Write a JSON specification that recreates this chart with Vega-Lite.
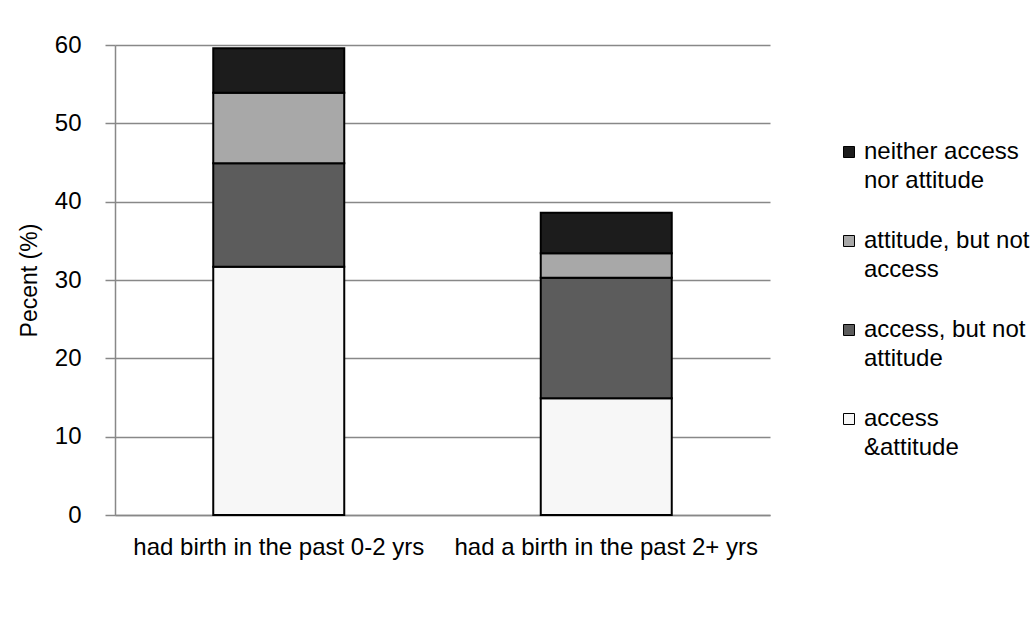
{
  "$schema": "https://vega.github.io/schema/vega-lite/v6.json",
  "width": 655,
  "height": 470,
  "autosize": {"type": "none"},
  "padding": {"left": 115, "top": 45, "right": 261, "bottom": 102},
  "background": "white",
  "config": {
    "font": "Liberation Sans",
    "view": {"stroke": null},
    "axis": {"labelFont": "Liberation Sans", "titleFont": "Liberation Sans", "labelColor": "black", "titleColor": "black"}
  },
  "data": {
    "values": [
      {"group": "had birth in the past 0-2 yrs", "category": "access &attitude", "order": 1, "value": 31.7},
      {"group": "had birth in the past 0-2 yrs", "category": "access, but not attitude", "order": 2, "value": 13.2},
      {"group": "had birth in the past 0-2 yrs", "category": "attitude, but not access", "order": 3, "value": 9.0},
      {"group": "had birth in the past 0-2 yrs", "category": "neither access nor attitude", "order": 4, "value": 5.7},
      {"group": "had a birth in the past 2+ yrs", "category": "access &attitude", "order": 1, "value": 14.9},
      {"group": "had a birth in the past 2+ yrs", "category": "access, but not attitude", "order": 2, "value": 15.4},
      {"group": "had a birth in the past 2+ yrs", "category": "attitude, but not access", "order": 3, "value": 3.1},
      {"group": "had a birth in the past 2+ yrs", "category": "neither access nor attitude", "order": 4, "value": 5.2}
    ]
  },
  "mark": {"type": "bar", "stroke": "black", "strokeWidth": 2},
  "encoding": {
    "x": {
      "field": "group",
      "type": "nominal",
      "sort": ["had birth in the past 0-2 yrs", "had a birth in the past 2+ yrs"],
      "scale": {"paddingInner": 0.6, "paddingOuter": 0.3},
      "axis": {
        "title": null,
        "labelAngle": 0,
        "labelFontSize": 24,
        "labelPadding": 20,
        "ticks": false,
        "domainColor": "#888888",
        "domainWidth": 1.5,
        "labelLimit": 400
      }
    },
    "y": {
      "field": "value",
      "type": "quantitative",
      "stack": "zero",
      "scale": {"domain": [0, 60]},
      "axis": {
        "title": "Pecent (%)",
        "titleFontSize": 23,
        "titleFontWeight": "normal",
        "titlePadding": 13,
        "values": [0, 10, 20, 30, 40, 50, 60],
        "labelFontSize": 24,
        "labelPadding": 24,
        "tickSize": 10,
        "tickColor": "#888888",
        "tickWidth": 1.5,
        "domainColor": "#888888",
        "domainWidth": 1.5,
        "gridColor": "#888888",
        "gridWidth": 1.5
      }
    },
    "color": {
      "field": "category",
      "type": "nominal",
      "sort": ["neither access nor attitude", "attitude, but not access", "access, but not attitude", "access &attitude"],
      "scale": {
        "domain": ["neither access nor attitude", "attitude, but not access", "access, but not attitude", "access &attitude"],
        "range": ["#1c1c1c", "#a8a8a8", "#5c5c5c", "#f7f7f7"]
      },
      "legend": {
        "title": null,
        "orient": "none",
        "legendX": 722,
        "legendY": 95,
        "symbolType": "square",
        "symbolSize": 121,
        "symbolStrokeColor": "black",
        "symbolStrokeWidth": 1,
        "symbolOpacity": 1,
        "labelFontSize": 24,
        "labelColor": "black",
        "labelLimit": 300,
        "labelOffset": 3,
        "rowPadding": 36,
        "encode": {"labels": {"update": {"lineHeight": {"value": 29}}}},
        "labelExpr": "datum.label == 'neither access nor attitude' ? ['neither access', 'nor attitude'] : datum.label == 'attitude, but not access' ? ['attitude, but not', 'access'] : datum.label == 'access, but not attitude' ? ['access, but not', 'attitude'] : ['access', '&attitude']"
      }
    },
    "order": {"field": "order", "type": "quantitative"}
  }
}
